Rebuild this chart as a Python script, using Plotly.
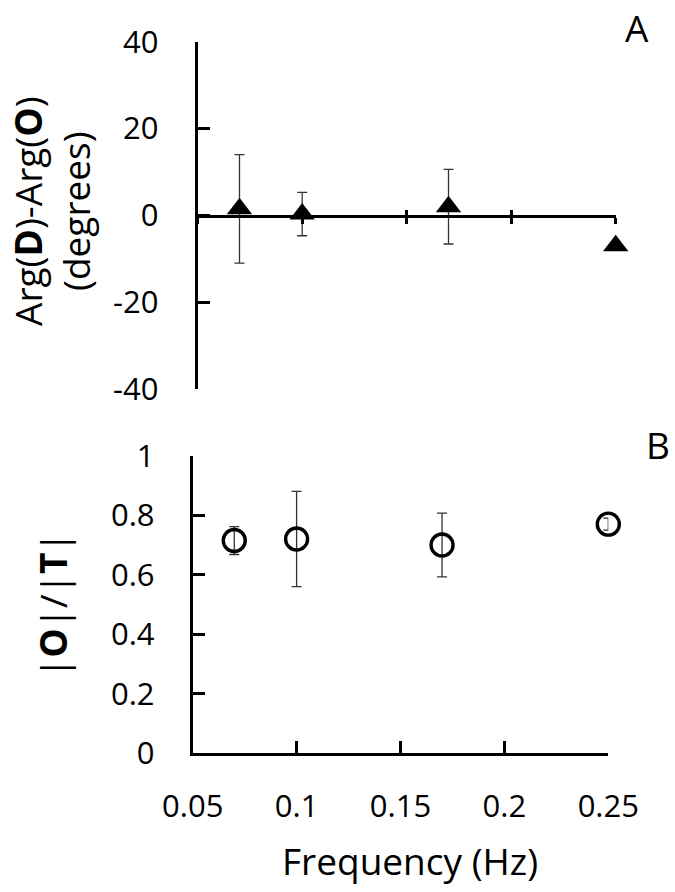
import plotly.graph_objects as go

# Data
freq_a = [0.07, 0.1, 0.17, 0.25]
arg_diff = [1.5, 0.3, 2.0, -7.0]
arg_err = [12.5, 5.0, 8.6, 0.0]

freq_b = [0.07, 0.1, 0.17, 0.25]
ratio = [0.715, 0.72, 0.70, 0.77]
ratio_err = [0.047, 0.16, 0.107, 0.02]

x_ticks = [0.05, 0.1, 0.15, 0.2, 0.25]
x_ticktext = ["0.05", "0.1", "0.15", "0.2", "0.25"]
ya_ticks = [-40, -20, 0, 20, 40]
ya_ticktext = ["-40", "-20", "0", "20", "40"]
yb_ticks = [0, 0.2, 0.4, 0.6, 0.8, 1]
yb_ticktext = ["0", "0.2", "0.4", "0.6", "0.8", "1"]

W, H = 675, 892
FONT = "Open Sans"
TICKF = dict(family=FONT, size=31, color="black")
TITLEF = dict(family=FONT, size=37, color="black")

ya_dom = [1 - 389 / H, 1 - 41.7 / H]
yb_dom = [1 - 753.3 / H, 1 - 455.7 / H]
xa_dom = [197.7 / W, 615.7 / W]
xb_dom = [192.7 / W, 608.3 / W]
zero_pos = 1 - 216 / H

fig = go.Figure()

err_style = dict(type="data", thickness=1.3, width=5, color="#333")

fig.add_trace(go.Scatter(
    x=freq_a, y=arg_diff, mode="markers", xaxis="x", yaxis="y",
    marker=dict(symbol="triangle-up", size=22, color="black"),
    error_y=dict(array=arg_err, **err_style),
    cliponaxis=False, showlegend=False))
# invisible helper trace so the crossing tick overlay axis is drawn
fig.add_trace(go.Scatter(
    x=freq_a, y=arg_diff, mode="markers", xaxis="x3", yaxis="y",
    marker=dict(size=1, opacity=0), hoverinfo="skip", showlegend=False))

fig.add_trace(go.Scatter(
    x=freq_b, y=ratio, mode="markers", xaxis="x2", yaxis="y2",
    marker=dict(symbol="circle-open", size=22, color="black",
                line=dict(width=3.4, color="black")),
    error_y=dict(array=ratio_err, **err_style),
    cliponaxis=False, showlegend=False))

common_x = dict(range=[0.05, 0.25], tickvals=x_ticks, ticktext=x_ticktext,
                showgrid=False, zeroline=False, tickcolor="black",
                tickwidth=3, linecolor="black", linewidth=3, automargin=False)

fig.update_layout(
    width=W, height=H,
    margin=dict(l=0, r=0, t=0, b=0, autoexpand=False),
    paper_bgcolor="white", plot_bgcolor="white",
    xaxis=dict(domain=xa_dom, anchor="free", position=zero_pos,
               showline=True, ticks="outside", ticklen=6,
               showticklabels=False, **common_x),
    xaxis3=dict(domain=xa_dom, anchor="free", position=zero_pos,
                overlaying="x", showline=False, ticks="inside", ticklen=6,
                showticklabels=False, **common_x),
    yaxis=dict(domain=ya_dom, anchor="x", range=[-40, 40], tickvals=ya_ticks,
               ticktext=ya_ticktext,
               showgrid=False, zeroline=False, showline=True,
               linecolor="black", linewidth=3, ticks="inside", ticklen=12,
               tickwidth=3, tickcolor="black", tickfont=TICKF,
               ticklabelstandoff=30, automargin=False),
    xaxis2=dict(domain=xb_dom, anchor="y2", showline=True, ticks="inside",
                ticklen=12, tickfont=TICKF, ticklabelstandoff=23, **common_x),
    yaxis2=dict(domain=yb_dom, anchor="x2", range=[0, 1], tickvals=yb_ticks,
                ticktext=yb_ticktext,
                showgrid=False, zeroline=False, showline=True,
                linecolor="black", linewidth=3, ticks="inside", ticklen=12,
                tickwidth=3, tickcolor="black", tickfont=TICKF,
                ticklabelstandoff=29, automargin=False),
    annotations=[
        dict(text="Arg(<b>D</b>)-Arg(<b>O</b>)<br>(degrees)", textangle=-90,
             x=52 / W, y=1 - 211 / H, xref="paper", yref="paper",
             xanchor="center", yanchor="middle", showarrow=False, font=TITLEF),
        dict(text="|<b>O</b>|/|<b>T</b>|", textangle=-90,
             x=52 / W, y=1 - 605 / H, xref="paper", yref="paper",
             xanchor="center", yanchor="middle", showarrow=False, font=TITLEF),
        dict(text="Frequency (Hz)", x=410 / W, y=1 - 860 / H,
             xref="paper", yref="paper", xanchor="center", yanchor="middle",
             showarrow=False, font=TITLEF),
        dict(text="A", x=637 / W, y=1.0, xref="paper", yref="paper",
             xanchor="center", yanchor="top", showarrow=False, font=TITLEF),
        dict(text="B", x=658 / W, y=1 - 444 / H, xref="paper", yref="paper",
             xanchor="center", yanchor="middle", showarrow=False, font=TITLEF),
    ],
)

fig.write_html("out.html",
               config={"displayModeBar": False},
               post_script="document.body.style.margin='0';"
                           "document.body.style.overflow='hidden';")
